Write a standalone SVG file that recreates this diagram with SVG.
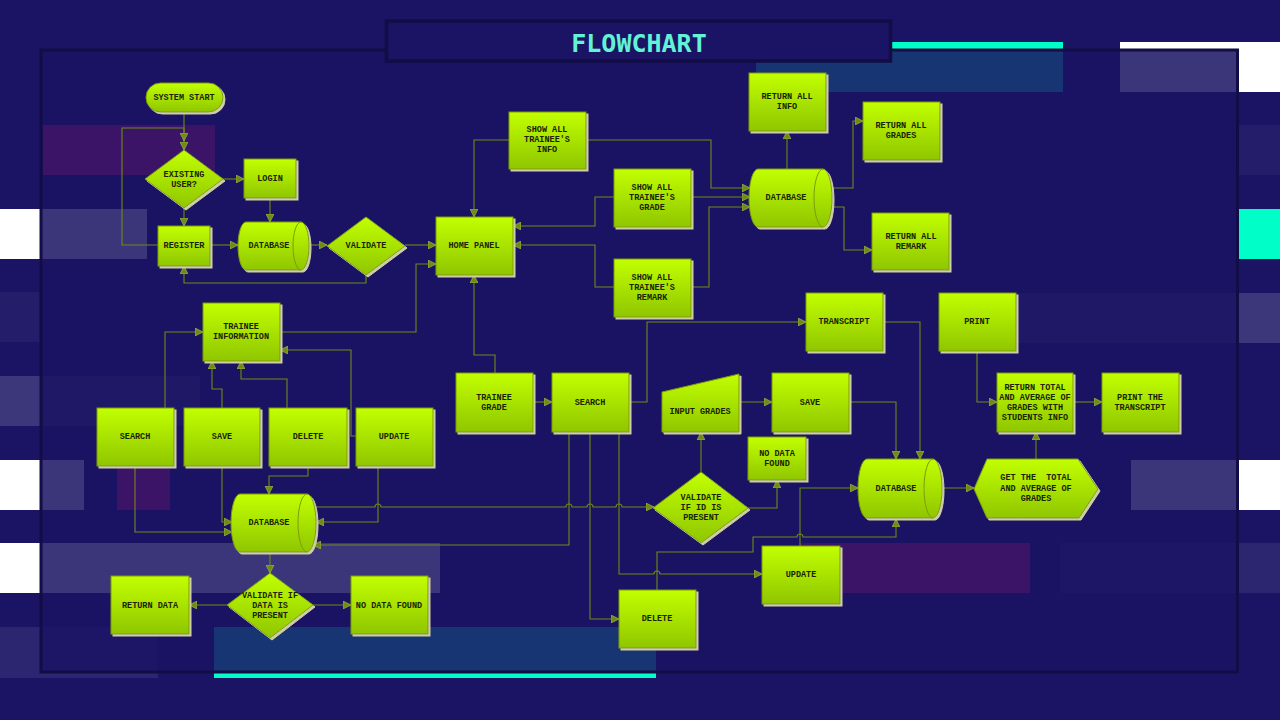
<svg xmlns="http://www.w3.org/2000/svg" width="1280" height="720" viewBox="0 0 1280 720">
<defs>
<linearGradient id="g" x1="0" y1="0" x2="0" y2="1">
<stop offset="0" stop-color="#c2ff00"/>
<stop offset="1" stop-color="#8fc600"/>
</linearGradient>
<filter id="sh" x="-10%" y="-10%" width="130%" height="130%">
<feDropShadow dx="2" dy="2" stdDeviation="0" flood-color="#cfcfa2"/>
</filter>
<marker id="ah" viewBox="0 0 10 10" refX="10" refY="5" markerWidth="8" markerHeight="8" markerUnits="userSpaceOnUse" orient="auto">
<path d="M0,0 L10,5 L0,10 Z" fill="#6f8c12" stroke="#a9bf5a" stroke-width="0.8"/>
</marker>
<style>
.n{fill:url(#g);stroke:#7c9c0a;stroke-width:1;filter:url(#sh)}
.in{fill:none;stroke:#7c9c0a;stroke-width:1}
.t{font-family:"Liberation Mono","DejaVu Sans Mono",monospace;font-size:8.5px;font-weight:bold;fill:#1a2400;text-anchor:middle}
.c{fill:none;stroke:#6d8a14;stroke-width:1.1;marker-end:url(#ah)}
.w{fill:#ffffff}
.cy{fill:#00ffc8}
.mg{fill:#ff1478}
</style>
</defs>
<rect x="0" y="0" width="1280" height="720" fill="#1b1464"/>
<g id="decor">
<rect class="w" x="0" y="209" width="147" height="50"/>
<rect class="w" x="0" y="460" width="84" height="50"/>
<rect class="w" x="0" y="543" width="440" height="50"/>
<rect class="w" x="1120" y="42" width="160" height="50"/>
<rect class="w" x="1131" y="460" width="149" height="50"/>
<rect class="cy" x="1238" y="209" width="42" height="50"/>
<rect class="cy" x="756" y="42" width="307" height="50"/>
<rect class="cy" x="214" y="627" width="442" height="51"/>
<rect class="mg" x="43" y="125" width="172" height="50"/>
<rect class="mg" x="117" y="460" width="53" height="50"/>
<rect class="mg" x="800" y="543" width="230" height="50"/>
<rect fill="#ffffff" opacity="0.15" x="0" y="376" width="200" height="50"/>
<rect fill="#ffffff" opacity="0.08" x="0" y="627" width="158" height="51"/>
<rect fill="#ffffff" opacity="0.15" x="990" y="293" width="290" height="50"/>
<rect fill="#ffffff" opacity="0.08" x="1060" y="543" width="220" height="50"/>
<rect fill="#ffffff" opacity="0.04" x="0" y="292" width="40" height="50"/>
<rect fill="#ffffff" opacity="0.04" x="1238" y="125" width="42" height="50"/>
</g>
<rect id="frame" x="41" y="50" width="1196.5" height="622" fill="#1b1464" fill-opacity="0.86" stroke="#120d45" stroke-width="3"/>
<g id="title">
<rect x="386.5" y="21" width="504" height="40" fill="#1b1464" stroke="#120d45" stroke-width="3.5"/>
<text x="639" y="52" font-family="'DejaVu Sans Mono','Liberation Mono',monospace" font-size="25" font-weight="bold" fill="#62f2d6" text-anchor="middle">FLOWCHART</text>
</g>

<g id="connectors">
<path class="c" d="M184,112 V150"/>
<path class="c" d="M158,245 H122 V128 H184 V141"/>
<path class="c" d="M222,179 H244"/>
<path class="c" d="M184,208 V226"/>
<path class="c" d="M270,198 V222"/>
<path class="c" d="M210,245 H238"/>
<path class="c" d="M301,245 H327"/>
<path class="c" d="M366,275 V283 H184 V266"/>
<path class="c" d="M405,245 H436"/>
<path class="c" d="M280,332 H416 V264 H436"/>
<path class="c" d="M509,140 H474 V217"/>
<path class="c" d="M586,140 H711 V188 H750"/>
<path class="c" d="M614,197 H595 V226 H513"/>
<path class="c" d="M691,197 H750"/>
<path class="c" d="M614,287 H595 V245 H513"/>
<path class="c" d="M691,287 H709 V207 H750"/>
<path class="c" d="M495,373 V355 H474 V275"/>
<path class="c" d="M787,169 V131"/>
<path class="c" d="M825,188 H853 V121 H863"/>
<path class="c" d="M825,207 H844 V250 H872"/>
<path class="c" d="M165,408 V332 H203"/>
<path class="c" d="M222,408 V389 H212 V361"/>
<path class="c" d="M287,408 V379 H241 V361"/>
<path class="c" d="M356,436 H351 V350 H280"/>
<path class="c" d="M135,466 V532 H232"/>
<path class="c" d="M222,466 V522 H232"/>
<path class="c" d="M308,466 V476 H269 V494"/>
<path class="c" d="M378,466 V522 H316"/>
<path class="c" d="M316,507 H375 A3,3 0 0 1 381,507 H566 A3,3 0 0 1 572,507 H587 A3,3 0 0 1 593,507 H616 A3,3 0 0 1 622,507 H654"/>
<path class="c" d="M569,432 V545 H313"/>
<path class="c" d="M590,432 V619 H619"/>
<path class="c" d="M619,432 V574 H654 A3,3 0 0 1 660,574 H762"/>
<path class="c" d="M270,553 V573"/>
<path class="c" d="M227,605 H189"/>
<path class="c" d="M313,605 H351"/>
<path class="c" d="M533,402 H552"/>
<path class="c" d="M629,402 H647 V322 H806"/>
<path class="c" d="M883,322 H920 V459"/>
<path class="c" d="M739,402 H772"/>
<path class="c" d="M849,402 H896 V459"/>
<path class="c" d="M701,472 V432"/>
<path class="c" d="M748,508 H777 V480"/>
<path class="c" d="M800,546 V488 H858"/>
<path class="c" d="M657,590 V552 H753 V537 H797 A3,3 0 0 1 803,537 H896 V519"/>
<path class="c" d="M935,488 H974"/>
<path class="c" d="M1036,459 V432"/>
<path class="c" d="M977,351 V402 H997"/>
<path class="c" d="M1073,402 H1102"/>
</g>

<g id="system-start"><rect class="n" x="146" y="83" width="77" height="29" rx="14.5"/><text class="t" x="184" y="100">SYSTEM START</text></g>
<g id="existing-user"><polygon class="n" points="184,150 223,179 184,208 145,179"/><text class="t" x="184" y="177">EXISTING</text><text class="t" x="184" y="187">USER?</text></g>
<g id="login"><rect class="n" x="244" y="159" width="52" height="39"/><text class="t" x="270" y="181">LOGIN</text></g>
<g id="register"><rect class="n" x="158" y="226" width="52" height="40"/><text class="t" x="184" y="248">REGISTER</text></g>
<g id="database-1"><path class="n" d="M246,222 H301 A8,24 0 0 1 301,270 H246 A8,24 0 0 1 246,222 Z"/><path class="in" d="M301,222 A8,24 0 0 0 301,270"/><text class="t" x="269" y="248">DATABASE</text></g>
<g id="validate"><polygon class="n" points="366,217 405,246 366,275 327,246"/><text class="t" x="366" y="248">VALIDATE</text></g>
<g id="home-panel"><rect class="n" x="436" y="217" width="77" height="58"/><text class="t" x="474" y="248">HOME PANEL</text></g>
<g id="show-info"><rect class="n" x="509" y="112" width="77" height="57"/><text class="t" x="547" y="132">SHOW ALL</text><text class="t" x="547" y="142">TRAINEE'S</text><text class="t" x="547" y="152">INFO</text></g>
<g id="show-grade"><rect class="n" x="614" y="169" width="77" height="58"/><text class="t" x="652" y="190">SHOW ALL</text><text class="t" x="652" y="200">TRAINEE'S</text><text class="t" x="652" y="210">GRADE</text></g>
<g id="show-remark"><rect class="n" x="614" y="259" width="77" height="58"/><text class="t" x="652" y="280">SHOW ALL</text><text class="t" x="652" y="290">TRAINEE'S</text><text class="t" x="652" y="300">REMARK</text></g>
<g id="database-2"><path class="n" d="M758,169 H823 A9,29 0 0 1 823,227 H758 A9,29 0 0 1 758,169 Z"/><path class="in" d="M823,169 A9,29 0 0 0 823,227"/><text class="t" x="786" y="200">DATABASE</text></g>
<g id="return-info"><rect class="n" x="749" y="73" width="77" height="58"/><text class="t" x="787" y="99">RETURN ALL</text><text class="t" x="787" y="109">INFO</text></g>
<g id="return-grades"><rect class="n" x="863" y="102" width="77" height="58"/><text class="t" x="901" y="128">RETURN ALL</text><text class="t" x="901" y="138">GRADES</text></g>
<g id="return-remark"><rect class="n" x="872" y="213" width="77" height="57"/><text class="t" x="911" y="239">RETURN ALL</text><text class="t" x="911" y="249">REMARK</text></g>
<g id="trainee-information"><rect class="n" x="203" y="303" width="77" height="58"/><text class="t" x="241" y="329">TRAINEE</text><text class="t" x="241" y="339">INFORMATION</text></g>
<g id="search-1"><rect class="n" x="97" y="408" width="77" height="58"/><text class="t" x="135" y="439">SEARCH</text></g>
<g id="save-1"><rect class="n" x="184" y="408" width="76" height="58"/><text class="t" x="222" y="439">SAVE</text></g>
<g id="delete-1"><rect class="n" x="269" y="408" width="78" height="58"/><text class="t" x="308" y="439">DELETE</text></g>
<g id="update-1"><rect class="n" x="356" y="408" width="77" height="58"/><text class="t" x="394" y="439">UPDATE</text></g>
<g id="database-3"><path class="n" d="M240,494 H307 A9,29 0 0 1 307,552 H240 A9,29 0 0 1 240,494 Z"/><path class="in" d="M307,494 A9,29 0 0 0 307,552"/><text class="t" x="269" y="525">DATABASE</text></g>
<g id="validate-data"><polygon class="n" points="270,573 313,605 270,638 227,605"/><text class="t" x="270" y="598">VALIDATE IF</text><text class="t" x="270" y="608">DATA IS</text><text class="t" x="270" y="618">PRESENT</text></g>
<g id="return-data"><rect class="n" x="111" y="576" width="78" height="58"/><text class="t" x="150" y="608">RETURN DATA</text></g>
<g id="no-data-1"><rect class="n" x="351" y="576" width="77" height="58"/><text class="t" x="389" y="608">NO DATA FOUND</text></g>
<g id="trainee-grade"><rect class="n" x="456" y="373" width="77" height="59"/><text class="t" x="494" y="400">TRAINEE</text><text class="t" x="494" y="410">GRADE</text></g>
<g id="search-2"><rect class="n" x="552" y="373" width="77" height="59"/><text class="t" x="590" y="405">SEARCH</text></g>
<g id="transcript"><rect class="n" x="806" y="293" width="77" height="58"/><text class="t" x="844" y="324">TRANSCRIPT</text></g>
<g id="print"><rect class="n" x="939" y="293" width="77" height="58"/><text class="t" x="977" y="324">PRINT</text></g>
<g id="input-grades"><polygon class="n" points="662,392 739,374 739,432 662,432"/><text class="t" x="700" y="414">INPUT GRADES</text></g>
<g id="save-2"><rect class="n" x="772" y="373" width="77" height="59"/><text class="t" x="810" y="405">SAVE</text></g>
<g id="no-data-2"><rect class="n" x="748" y="437" width="58" height="43"/><text class="t" x="777" y="456">NO DATA</text><text class="t" x="777" y="466">FOUND</text></g>
<g id="validate-id"><polygon class="n" points="701,472 748,508 701,543 653,508"/><text class="t" x="701" y="500">VALIDATE</text><text class="t" x="701" y="510">IF ID IS</text><text class="t" x="701" y="520">PRESENT</text></g>
<g id="database-4"><path class="n" d="M867,459 H933 A9,29.5 0 0 1 933,518 H867 A9,29.5 0 0 1 867,459 Z"/><path class="in" d="M933,459 A9,29.5 0 0 0 933,518"/><text class="t" x="896" y="491">DATABASE</text></g>
<g id="get-total"><polygon class="n" points="974,489 987,459 1078,459 1098,489 1079,518 987,518"/><text class="t" x="1036" y="480" style="white-space:pre">GET THE  TOTAL</text><text class="t" x="1036" y="491">AND AVERAGE OF</text><text class="t" x="1036" y="501">GRADES</text></g>
<g id="return-total"><rect class="n" x="997" y="373" width="76" height="59"/><text class="t" x="1035" y="390">RETURN TOTAL</text><text class="t" x="1035" y="400">AND AVERAGE OF</text><text class="t" x="1035" y="410">GRADES WITH</text><text class="t" x="1035" y="420">STUDENTS INFO</text></g>
<g id="print-transcript"><rect class="n" x="1102" y="373" width="77" height="59"/><text class="t" x="1140" y="400">PRINT THE</text><text class="t" x="1140" y="410">TRANSCRIPT</text></g>
<g id="update-2"><rect class="n" x="762" y="546" width="78" height="58"/><text class="t" x="801" y="577">UPDATE</text></g>
<g id="delete-2"><rect class="n" x="619" y="590" width="77" height="58"/><text class="t" x="657" y="621">DELETE</text></g>
</svg>
